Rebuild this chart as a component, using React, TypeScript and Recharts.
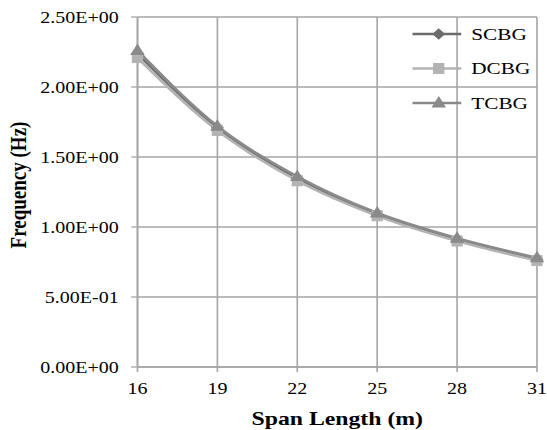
import React from 'react';
import { LineChart, Line, XAxis, YAxis, CartesianGrid, Legend, Label } from 'recharts';

const spans = [16, 19, 22, 25, 28, 31];
const scbg = [2.24, 1.71, 1.35, 1.09, 0.91, 0.77];
const dcbg = [2.21, 1.69, 1.33, 1.08, 0.9, 0.76];
const tcbg = [2.26, 1.72, 1.36, 1.1, 0.92, 0.78];
const xTicks = [16, 19, 22, 25, 28, 31];
const yTicks = [0, 0.5, 1, 1.5, 2, 2.5];

const data = spans.map((s, i) => ({ span: s, SCBG: scbg[i], DCBG: dcbg[i], TCBG: tcbg[i] }));

const FONT = '"Liberation Serif", "Times New Roman", serif';
const STRETCH = 1.25;
const W = 547 / STRETCH;
const H = 430;

const series = [
  { key: 'SCBG', color: '#6b6b6b', shape: 'diamond' },
  { key: 'DCBG', color: '#b3b3b3', shape: 'square' },
  { key: 'TCBG', color: '#8a8a8a', shape: 'triangle' },
];

function Marker({ cx, cy, shape, color }: { cx: number; cy: number; shape: string; color: string }) {
  if (cx == null || cy == null) return null;
  if (shape === 'diamond') {
    return <path d={`M${cx},${cy - 5} L${cx + 4.5},${cy} L${cx},${cy + 5} L${cx - 4.5},${cy} Z`} fill={color} stroke={color} />;
  }
  if (shape === 'square') {
    return <rect x={cx - 4} y={cy - 5} width={8} height={10} fill={color} stroke={color} />;
  }
  return <path d={`M${cx},${cy - 6} L${cx + 5},${cy + 4} L${cx - 5},${cy + 4} Z`} fill={color} stroke={color} />;
}

const fmt = (v: number) => {
  const [m, e] = v.toExponential(2).split('e');
  const sign = e[0];
  const d = e.slice(1).padStart(2, '0');
  return `${m}E${sign}${d}`;
};

const LegendContent = () => (
  <svg width={110} height={110} style={{ overflow: 'visible' }}>
    {series.map((s, i) => {
      const y = 14 + i * 34.5;
      return (
        <g key={s.key}>
          <line x1={0} y1={y} x2={39} y2={y} stroke={s.color} strokeWidth={2.5} />
          <Marker cx={21} cy={y} shape={s.shape} color={s.color} />
          <text x={47} y={y} dy="0.35em" fontFamily={FONT} fontSize={17} fill="#000">
            {s.key}
          </text>
        </g>
      );
    })}
  </svg>
);

const YTitle = (props: any) => {
  const x = 14.5;
  const y = 185;
  return (
    <text
      x={x}
      y={y}
      transform={`rotate(-90, ${x}, ${y})`}
      textAnchor="middle"
      dy="0.35em"
      fontFamily={FONT}
      fontWeight="bold"
      fontSize={19}
      fill="#000"
    >
      Frequency (Hz)
    </text>
  );
};

export default function App() {
  return (
    <div style={{ position: 'absolute', left: 0, top: 0, transform: `scaleX(${STRETCH})`, transformOrigin: '0 0' }}>
      <LineChart width={W} height={H} data={data} margin={{ top: 17, right: 8, bottom: 0, left: 0 }}>
        <CartesianGrid stroke="#a6a6a6" strokeWidth={1.3} />
        <XAxis
          dataKey="span"
          type="number"
          domain={[16, 31]}
          ticks={xTicks}
          height={63}
          stroke="#a6a6a6"
          strokeWidth={1.3}
          tickSize={5}
          tickMargin={11}
          tick={{ fill: '#000', fontFamily: FONT, fontSize: 16 }}
        >
          <Label
            value="Span Length (m)"
            position="insideBottom"
            offset={5}
            style={{ fontFamily: FONT, fontWeight: 'bold', fontSize: 19, fill: '#000' }}
          />
        </XAxis>
        <YAxis
          type="number"
          domain={[0, 2.5]}
          ticks={yTicks}
          width={110}
          stroke="#a6a6a6"
          strokeWidth={1.3}
          tickSize={5}
          tickMargin={10}
          tickFormatter={fmt}
          tick={{ fill: '#000', fontFamily: FONT, fontSize: 16 }}
        >
          <Label content={YTitle} />
        </YAxis>
        <Legend
          layout="vertical"
          align="center"
          verticalAlign="middle"
          content={LegendContent}
          wrapperStyle={{ left: 330, top: 20, width: 110, height: 110 }}
        />
        {series.map((s) => (
          <Line
            key={s.key}
            type="monotone"
            dataKey={s.key}
            stroke={s.color}
            strokeWidth={2.5}
            isAnimationActive={false}
            dot={(p: any) => <Marker key={`${s.key}-${p.index}`} cx={p.cx} cy={p.cy} shape={s.shape} color={s.color} />}
            activeDot={false}
          />
        ))}
      </LineChart>
    </div>
  );
}
